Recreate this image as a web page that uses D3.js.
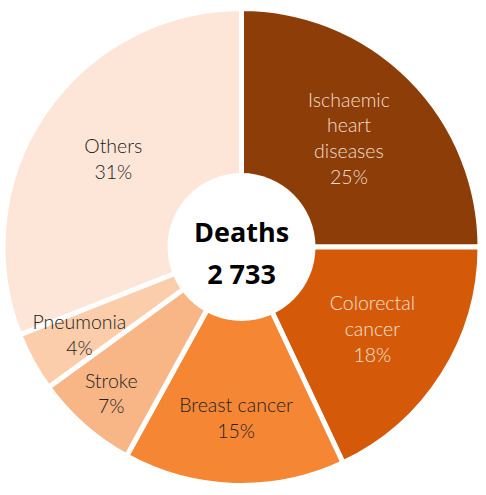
<!DOCTYPE html>
<html>
<head>
<meta charset="utf-8">
<script src="https://cdn.jsdelivr.net/npm/d3@7"></script>
<style>
  html, body { margin: 0; padding: 0; background: #fff; }
  svg { display: block; }
</style>
</head>
<body>
<svg id="chart" width="486" height="495"></svg>
<script>
// Data
const categories = ["Ischaemic heart diseases", "Colorectal cancer", "Breast cancer", "Stroke", "Pneumonia", "Others"];
const labelLines = [["Ischaemic", "heart", "diseases"], ["Colorectal", "cancer"], ["Breast cancer"], ["Stroke"], ["Pneumonia"], ["Others"]];
const shares = [25, 18, 15, 7, 4, 31];
const totalLabel = "Deaths";
const totalValue = "2 733";

// Styling (layout config, not data)
const colors = ["#8c3d08", "#d45a0a", "#f58634", "#f8b686", "#fbcdaa", "#fde6d7"];
const textColors = ["#f3ddcd", "#f6e1d2", "#222222", "#222222", "#222222", "#222222"];
const labelRadius = [152, 155, 172, 197, 185, 155];

const svg = d3.select("#chart");
const cx = 241.5, cy = 247;
const outerR = 238.5, innerR = 74;
const g = svg.append("g").attr("transform", `translate(${cx},${cy})`);

const data = categories.map((c, i) => ({ name: c, value: shares[i], i }));
const pie = d3.pie().value(d => d.value).sort(null);
const arcs = pie(data);
const arc = d3.arc().innerRadius(0).outerRadius(outerR);

g.selectAll("path.slice")
  .data(arcs)
  .join("path")
  .attr("class", "slice")
  .attr("d", arc)
  .attr("fill", d => colors[d.data.i])
  .attr("stroke", "#fff")
  .attr("stroke-width", 5)
  .attr("stroke-linejoin", "miter");

g.append("circle").attr("r", innerR).attr("fill", "#fff");

const lineH = 25.8;
const labels = g.selectAll("text.lbl")
  .data(arcs)
  .join("text")
  .attr("class", "lbl")
  .attr("font-family", "Lato, sans-serif")
  .attr("font-weight", 300)
  .attr("font-size", 19.5)
  .attr("text-anchor", "middle")
  .attr("fill", d => textColors[d.data.i])
  .each(function(d) {
    const a = (d.startAngle + d.endAngle) / 2;
    const r = labelRadius[d.data.i];
    const x = Math.sin(a) * r, y = -Math.cos(a) * r - 1;
    const lines = labelLines[d.data.i].concat([d3.format(".0f")(d.data.value) + "%"]);
    const n = lines.length;
    const t = d3.select(this);
    lines.forEach((ln, k) => {
      t.append("tspan")
        .attr("x", x)
        .attr("y", y + (k - (n - 1) / 2) * lineH)
        .attr("dy", "0.35em")
        .text(ln);
    });
  });

g.append("text")
  .attr("text-anchor", "middle")
  .attr("font-family", "'Open Sans', sans-serif")
  .attr("font-weight", 700)
  .attr("font-size", 27)
  .attr("fill", "#000")
  .attr("y", -14)
  .attr("dy", "0.35em")
  .text(totalLabel);
g.append("text")
  .attr("text-anchor", "middle")
  .attr("font-family", "'Open Sans', sans-serif")
  .attr("font-weight", 700)
  .attr("font-size", 27)
  .attr("fill", "#000")
  .attr("y", 28)
  .attr("dy", "0.35em")
  .text(totalValue);
</script>
</body>
</html>
